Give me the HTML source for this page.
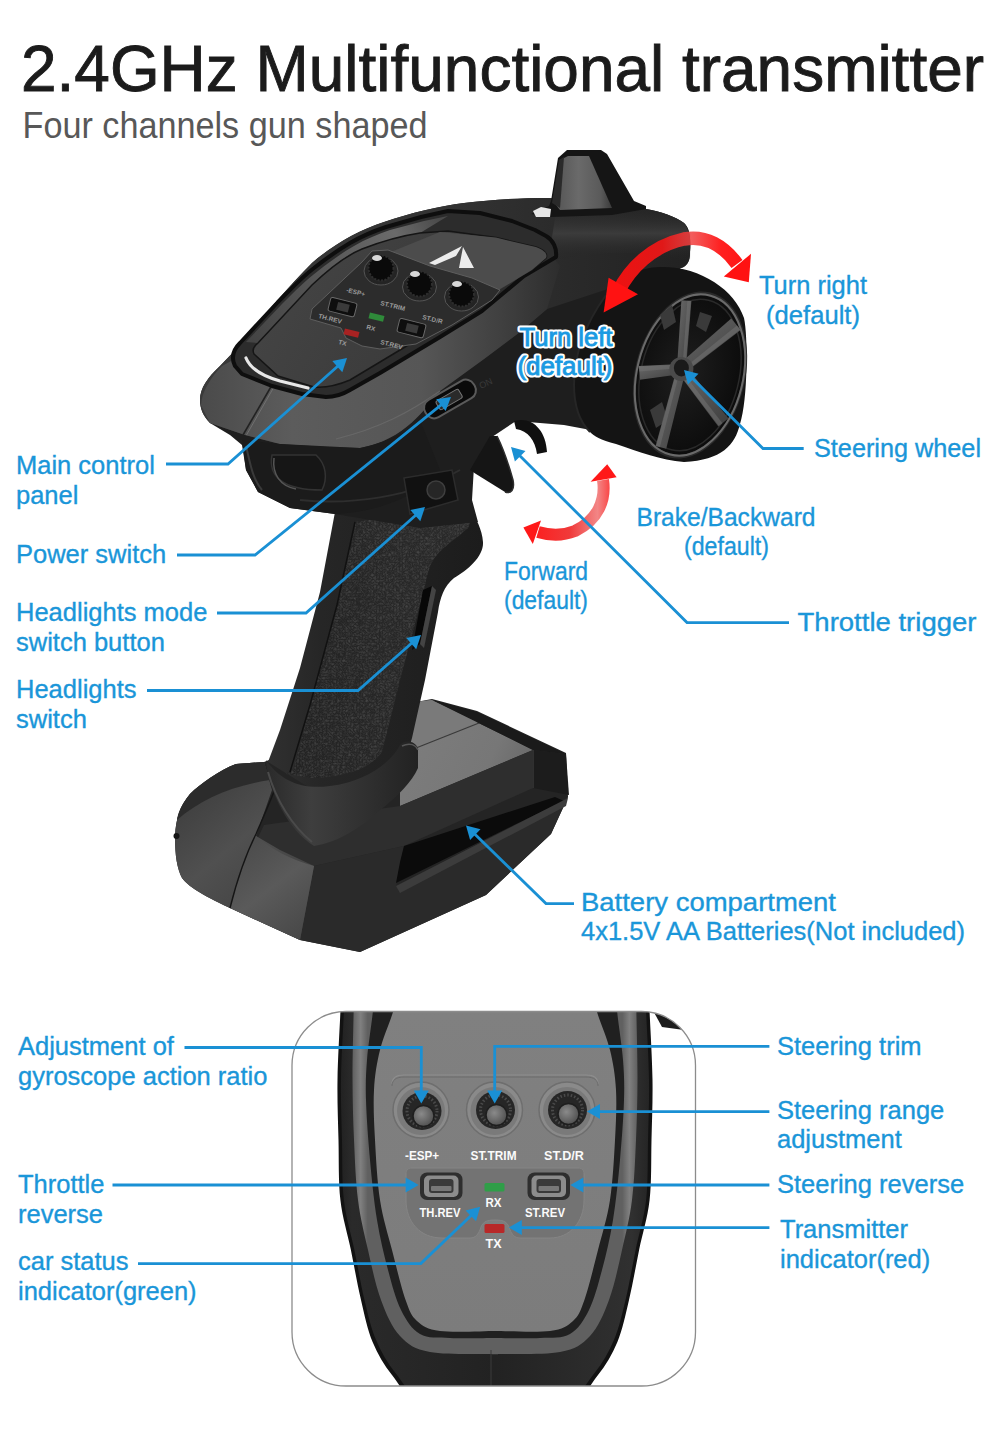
<!DOCTYPE html>
<html><head><meta charset="utf-8"><title>2.4GHz Multifunctional transmitter</title>
<style>
html,body{margin:0;padding:0;background:#fff;}
body{width:1000px;height:1435px;overflow:hidden;position:relative;font-family:"Liberation Sans",sans-serif;}
svg{position:absolute;left:0;top:0;}
.t{font-family:"Liberation Sans",sans-serif;}
.lb{font-family:"Liberation Sans",sans-serif;font-size:25.5px;fill:#1a96d9;stroke:#1a96d9;stroke-width:0.35px;}
.ln{fill:none;stroke:#1a90d4;stroke-width:2.8;stroke-linejoin:miter;}
.ah{fill:#1a90d4;}
</style></head><body>
<svg width="1000" height="1435" viewBox="0 0 1000 1435">
<defs>
<linearGradient id="gShell" x1="200" y1="0" x2="690" y2="0" gradientUnits="userSpaceOnUse">
<stop offset="0" stop-color="#3a3a3a"/><stop offset="0.5" stop-color="#333"/><stop offset="0.75" stop-color="#2a2a2a"/><stop offset="1" stop-color="#222"/>
</linearGradient>
<linearGradient id="gFace" x1="200" y1="0" x2="570" y2="0" gradientUnits="userSpaceOnUse">
<stop offset="0" stop-color="#4a4a4a"/><stop offset="0.25" stop-color="#5c5c5c"/><stop offset="0.6" stop-color="#565656"/><stop offset="0.85" stop-color="#3c3c3c"/><stop offset="1" stop-color="#2a2a2a"/>
</linearGradient>
<linearGradient id="gGrip" x1="0" y1="0" x2="1" y2="0">
<stop offset="0" stop-color="#303030"/><stop offset="0.25" stop-color="#262626"/><stop offset="1" stop-color="#1c1c1c"/>
</linearGradient>
<linearGradient id="gTex" x1="0" y1="0" x2="1" y2="0">
<stop offset="0" stop-color="#222"/><stop offset="1" stop-color="#2a2a2a"/>
</linearGradient>
<linearGradient id="gBaseTop" x1="400" y1="700" x2="560" y2="780" gradientUnits="userSpaceOnUse">
<stop offset="0" stop-color="#7e7e7e"/><stop offset="0.6" stop-color="#777"/><stop offset="1" stop-color="#5e5e5e"/>
</linearGradient>
<linearGradient id="gBaseFront" x1="175" y1="0" x2="420" y2="0" gradientUnits="userSpaceOnUse">
<stop offset="0" stop-color="#262626"/><stop offset="0.25" stop-color="#3c3c3c"/><stop offset="0.6" stop-color="#343434"/><stop offset="1" stop-color="#2a2a2a"/>
</linearGradient>
<linearGradient id="gPanel" x1="250" y1="220" x2="540" y2="390" gradientUnits="userSpaceOnUse">
<stop offset="0" stop-color="#474747"/><stop offset="0.45" stop-color="#3e3e3e"/><stop offset="1" stop-color="#363636"/>
</linearGradient>
<radialGradient id="gRim" cx="0.45" cy="0.5" r="0.6">
<stop offset="0" stop-color="#1e1e1e"/><stop offset="1" stop-color="#0a0a0a"/>
</radialGradient>
<linearGradient id="gSpoke" x1="0" y1="0" x2="1" y2="1">
<stop offset="0" stop-color="#6a6a6a"/><stop offset="1" stop-color="#3e3e3e"/>
</linearGradient>
<linearGradient id="gFin" x1="0" y1="0" x2="1" y2="0">
<stop offset="0" stop-color="#555"/><stop offset="0.4" stop-color="#6a6a6a"/><stop offset="0.8" stop-color="#5a5a5a"/><stop offset="1" stop-color="#3a3a3a"/>
</linearGradient>
<linearGradient id="gRedTop" x1="604" y1="0" x2="750" y2="0" gradientUnits="userSpaceOnUse">
<stop offset="0" stop-color="#f01010"/><stop offset="0.4" stop-color="#e01818"/><stop offset="0.6" stop-color="#f04040" stop-opacity="0.85"/><stop offset="0.8" stop-color="#ff2020"/><stop offset="1" stop-color="#ff1212"/>
</linearGradient>
<linearGradient id="gRedLow" x1="524" y1="0" x2="616" y2="0" gradientUnits="userSpaceOnUse">
<stop offset="0" stop-color="#ff1818"/><stop offset="0.5" stop-color="#f03a3a"/><stop offset="0.8" stop-color="#f07070" stop-opacity="0.85"/><stop offset="1" stop-color="#ff2020"/>
</linearGradient>
<linearGradient id="gHi" x1="0" y1="210" x2="0" y2="262" gradientUnits="userSpaceOnUse">
<stop offset="0" stop-color="#2a2a2a" stop-opacity="0.2"/><stop offset="0.45" stop-color="#404040" stop-opacity="0.8"/><stop offset="1" stop-color="#222" stop-opacity="0"/>
</linearGradient>
<filter id="fLeather" x="0" y="0" width="100%" height="100%">
<feTurbulence type="turbulence" baseFrequency="0.35" numOctaves="3" seed="7" result="n"/>
<feColorMatrix in="n" type="matrix" values="0 0 0 0 0.2  0 0 0 0 0.2  0 0 0 0 0.2  1.5 0 0 0 -0.15" result="c"/>
<feComposite in="c" in2="SourceGraphic" operator="in"/>
</filter>
<linearGradient id="gBaseL" x1="175" y1="780" x2="300" y2="930" gradientUnits="userSpaceOnUse">
<stop offset="0" stop-color="#3a3a3a"/><stop offset="0.45" stop-color="#505050"/><stop offset="1" stop-color="#3c3c3c"/>
</linearGradient>
<linearGradient id="gBaseM" x1="240" y1="840" x2="310" y2="930" gradientUnits="userSpaceOnUse">
<stop offset="0" stop-color="#4a4a4a"/><stop offset="0.5" stop-color="#5a5a5a"/><stop offset="1" stop-color="#484848"/>
</linearGradient>
<linearGradient id="gCollar" x1="266" y1="790" x2="418" y2="790" gradientUnits="userSpaceOnUse">
<stop offset="0" stop-color="#2a2a2a"/><stop offset="0.3" stop-color="#3e3e3e"/><stop offset="0.7" stop-color="#2e2e2e"/><stop offset="1" stop-color="#222"/>
</linearGradient>
</defs>
<!-- ===== base ===== -->
<path d="M264,762 L416,702 L432,699 L477,711 L566,753 L568,797 L551,834 L486,895 L360,952 L300,940 L230,908 C200,894 188,886 182,878 C177,868 175,856 175,836 C176,818 180,806 190,794 C200,784 220,770 236,764 Z" fill="#242424"/>
<!-- top back surfaces -->
<path d="M416,702 L432,700 L533,750 L400,806 L400,745 Z" fill="url(#gBaseTop)"/>
<path d="M416,702 L432,700 L478,722 L416,746 L404,720 Z" fill="#7a7a7a"/>
<path d="M479,723 L416,748" stroke="#3a3a3a" stroke-width="1.3"/>
<!-- right end face -->
<path d="M432,700 L477,712 L566,754 L533,750 Z" fill="#1a1a1a"/>
<path d="M533,750 L566,754 L569,795 L533,788 Z" fill="#1c1c1c"/>
<path d="M533,750 L533,788" stroke="#444" stroke-width="1"/>
<!-- upper front face -->
<path d="M533,750 L533,788 L404,846 L314,866 L252,850 L264,825 L400,806 Z" fill="#2e2e2e"/>
<!-- lower front face -->
<path d="M396,887 L568,797 L551,834 L486,895 L360,952 L300,940 L314,866 L404,846 Z" fill="#2a2a2a"/>
<!-- slot -->
<path d="M404,846 L555,797 L564,801 L514,825 L396,883 L400,862 Z" fill="#0b0b0b"/>
<path d="M396,886 L568,798 L566,806 L400,893 Z" fill="#3c3c3c"/>
<!-- left face -->
<path d="M264,762 L236,764 C220,770 200,784 190,794 C180,806 176,818 175,836 C175,856 177,868 182,878 C188,886 200,894 230,908 L300,940 L314,866 L280,850 L256,836 L272,790 Z" fill="url(#gBaseL)"/>
<path d="M280,776 C270,800 262,820 256,834 C248,850 238,876 230,908 L300,940 L314,866 C295,860 270,848 256,836" fill="none" stroke="none"/>
<path d="M256,836 C248,852 238,878 230,908 L300,940 L314,866 C292,860 272,850 256,836 Z" fill="url(#gBaseM)"/>
<path d="M280,776 C272,798 262,820 256,834 C248,850 238,876 230,908" fill="none" stroke="#151515" stroke-width="1.4"/>
<path d="M236,764 C220,770 200,784 190,794 C182,804 178,812 177,820 C200,800 230,786 270,780 L264,762 Z" fill="#2c2c2c"/>
<circle cx="176.5" cy="836" r="3" fill="#151515"/>
<!-- ===== grip ===== -->
<path d="M335,512 L465,500 C472,512 482,526 483,542 C484,556 468,570 454,578 C444,586 440,598 438,612 L425,680 L412,738 L408,752 C395,770 350,790 310,788 L268,762 L280,730 L300,668 L320,592 Z" fill="url(#gGrip)"/>
<path d="M355,522 L467,505 C470,512 472,520 468,528 C455,540 440,548 432,562 C428,570 426,580 424,590 L400,680 L382,752 C370,770 340,778 312,778 L286,774 L294,768 L310,705 L337,605 Z" fill="url(#gTex)"/>
<path d="M355,522 L467,505 C470,512 472,520 468,528 C455,540 440,548 432,562 C428,570 426,580 424,590 L400,680 L382,752 C370,770 340,778 312,778 L286,774 L294,768 L310,705 L337,605 Z" fill="#000" filter="url(#fLeather)" opacity="0.35"/>
<path d="M355,522 L337,605 L310,705 L290,772" fill="none" stroke="#111" stroke-width="1.5"/>
<!-- collar -->
<path d="M266,760 C268,790 288,830 314,846 C340,842 362,826 378,812 C398,796 412,782 418,768 L418,748 C414,740 404,740 400,745 C392,762 365,782 330,786 C300,790 280,780 266,760 Z" fill="url(#gCollar)"/>
<path d="M268,772 C276,800 292,826 312,842" fill="none" stroke="#4a4a4a" stroke-width="2"/>
<path d="M402,746 C410,742 416,745 418,750" fill="none" stroke="#555" stroke-width="1.5"/>
<!-- headlights switch slot -->
<path d="M423,590 L432,586 L420,644 L412,650 Z" fill="#080808"/>
<path d="M432,586 L436,590 L424,648 L420,644 Z" fill="#444"/>
<!-- ===== upper body ===== -->
<path d="M200,400 C200,388 208,377 220,366 L245,340 C262,318 285,290 312,263 C335,243 360,230 384,222 C410,213 440,206 464,203 C490,200 515,198 549,198 L646,209 C660,211 676,217 684,223 C690,228 691,240 690,252 C690,260 688,266 681,268 L640,300 L596,431 L564,425 L516,421 L492,437 L474,466 L472,500 L478,522 L420,528 L335,514 L290,508 L258,492 L246,470 L242,445 L230,435 L210,423 C203,416 200,408 200,400 Z" fill="#1e1e1e"/>
<!-- shell top surface -->
<path d="M200,400 C200,388 208,377 220,366 L245,340 C262,318 285,290 312,263 C335,243 360,230 384,222 C410,213 440,206 464,203 C490,200 515,198 549,198 L646,209 C660,211 676,217 684,223 C690,228 691,240 690,252 C690,260 688,266 681,268 L620,285 L547,309 L520,332 L484,359 L440,391 C425,408 405,440 360,448 L328,447 L280,444 L245,435 L210,423 C203,416 200,408 200,400 Z" fill="url(#gShell)"/>
<!-- top surface highlight band right of panel -->
<path d="M556,212 L646,209 C660,211 676,217 684,223 C690,230 691,245 690,262 C650,250 600,250 548,262 Z" fill="url(#gHi)"/>
<!-- shell front face -->
<path d="M201,405 C202,392 210,378 222,366 L233,360 L240,373 L270,384 L302,394 L326,397 L350,390 L380,373 L400,361 L440,337 L482,311 L524,276 L552,256 L560,266 L547,309 L520,332 L484,359 L440,391 C425,408 405,440 360,448 L328,447 L280,444 L245,435 L210,423 Z" fill="url(#gFace)"/>
<path d="M336,439 C380,428 410,412 440,391" fill="none" stroke="#6a6a6a" stroke-width="1.2" opacity="0.8"/>
<path d="M272,385 L243,435" stroke="#222" stroke-width="1.6"/>
<path d="M273,386 L245,435" stroke="#777" stroke-width="0.8" transform="translate(1.5,0)"/>
<!-- underbody / headlight -->
<path d="M242,440 L280,444 L360,448 C395,440 410,430 420,420 L440,470 C420,495 380,512 335,514 L290,508 L258,492 L246,470 Z" fill="#1b1b1b"/>
<path d="M300,500 C350,505 410,498 460,470" fill="none" stroke="#2e2e2e" stroke-width="2"/>
<path d="M246,446 C250,462 252,478 262,490" fill="none" stroke="#3a3a3a" stroke-width="2"/>
<path d="M272,455 C268,476 282,490 322,490 C328,478 326,464 316,455 Z" fill="#161616" stroke="#333" stroke-width="1.5"/>
<path d="M274,458 C272,474 280,486 296,489" fill="none" stroke="#555" stroke-width="1.5"/>
<!-- fin -->
<path d="M531,214 L549,206 L551,201 L558,158 L567,150 L601,150 L607,154 L634,201 L646,206 L646,209 L612,215 L551,217 Z" fill="#151515"/>
<path d="M560,160 L568,156 L589,156 L612,208 L560,210 L556,205 Z" fill="url(#gFin)"/>
<path d="M552,203 L559,160 L564,157 L560,208 Z" fill="#2a2a2a"/>
<path d="M533,211 L541,207 L551,209 L550,217 L536,217 Z" fill="#e6e6e6"/>
<!-- ===== control panel ===== -->
<defs><linearGradient id="gGlass" x1="250" y1="340" x2="440" y2="220" gradientUnits="userSpaceOnUse">
<stop offset="0" stop-color="#444"/><stop offset="0.5" stop-color="#5a5a5a"/><stop offset="0.8" stop-color="#6a6a6a"/><stop offset="1" stop-color="#4a4a4a"/>
</linearGradient></defs>
<path d="M235,366 C231,358 233,350 240,343 L278,302 C292,288 302,277 314,268 C328,257 338,250 350,243 C362,236 374,231 386,227 L421,217 L448,211 L480,213 L512,221 L535,230 L546,236 C553,240 557,248 556,257 L524,276 L482,311 L440,337 L400,361 L380,373 L350,390 C340,396 332,397 326,397 L302,394 L272,386 L242,374 Z" fill="#2c2c2c" stroke="#0e0e0e" stroke-width="4" stroke-linejoin="round"/>
<path d="M246,342 L282,304 C296,290 306,280 318,271 C332,260 342,253 354,246 C366,239 378,234 390,230 L424,221 L448,216 L420,233 C400,236 380,242 362,249 C345,256 330,268 312,285 L258,343 Z" fill="url(#gGlass)"/>
<path d="M254,354 C252,350 254,346 258,343 L312,285 C330,268 345,256 362,249 C380,242 400,236 420,233 L448,231 L496,237.6 L536,247 C544,250 548,254 546,258 L532,270 L510,281 L474,306 L440,326 L400,350 L380,362 L350,380 C336,386 326,388 314,387 L278,376 Z" fill="url(#gPanel)" stroke="#151515" stroke-width="1.5"/>
<path d="M386,254 L440,232 L496,237.6 L536,247 C544,250 548,254 546,258 L532,270 L492,294 Z" fill="#4c4c4c"/>
<!-- sub panel -->
<path d="M312,309 L362,262 L372,251 L388,250 L430,266 L472,278 L500,290 L492,300 L452,325 L416,344 L380,349 L362,346 L346,338 L341,328 L310,319 Z" fill="#2c2c2c" stroke="#5e5e5e" stroke-width="1"/>
<!-- knobs -->
<g stroke="#555" stroke-width="1" fill="#242424">
<ellipse cx="381" cy="271" rx="17" ry="14"/>
<ellipse cx="419.5" cy="287" rx="17" ry="14"/>
<ellipse cx="461.5" cy="297" rx="17" ry="14"/>
</g>
<g fill="#0a0a0a" stroke="#2e2e2e" stroke-width="2" stroke-dasharray="2 1.5">
<circle cx="381" cy="268" r="12.5"/>
<circle cx="419.5" cy="284" r="12.5"/>
<circle cx="461.5" cy="294" r="12.5"/>
</g>
<g fill="#d8d8d8">
<ellipse cx="377" cy="258" rx="5" ry="3"/>
<ellipse cx="415" cy="274" rx="5" ry="3"/>
<ellipse cx="457" cy="284" rx="5" ry="3"/>
</g>
<!-- panel text -->
<g font-family="Liberation Sans" font-weight="bold" font-size="6.5" fill="#9a9a9a">
<text x="346" y="292" transform="rotate(14 346 292)">-ESP+</text>
<text x="380" y="305" transform="rotate(14 380 305)">ST.TRIM</text>
<text x="422" y="319" transform="rotate(14 422 319)">ST.D/R</text>
<text x="318" y="318" transform="rotate(14 318 318)">TH.REV</text>
<text x="366" y="329" transform="rotate(14 366 329)">RX</text>
<text x="380" y="344" transform="rotate(14 380 344)">ST.REV</text>
<text x="338" y="344" transform="rotate(14 338 344)">TX</text>
</g>
<!-- switches / leds -->
<g transform="rotate(14 342 307)"><rect x="329" y="300" width="27" height="14" rx="2" fill="#0e0e0e" stroke="#6a6a6a" stroke-width="1"/><rect x="337" y="303" width="12" height="8" fill="#3a3a3a"/></g>
<g transform="rotate(14 411 328)"><rect x="398" y="321" width="27" height="14" rx="2" fill="#0e0e0e" stroke="#6a6a6a" stroke-width="1"/><rect x="406" y="324" width="12" height="8" fill="#3a3a3a"/></g>
<rect x="369" y="314" width="15" height="6" fill="#2f8a3a" transform="rotate(14 376 317)"/>
<rect x="344" y="330" width="15" height="6" fill="#a82222" transform="rotate(14 351 333)"/>
<!-- logo -->
<path d="M429,263 L462,246 L456,256 L435,265 Z M463,247 L474,268 L459,268 Z" fill="#ececec"/>
<!-- bezel highlight -->
<path d="M246,358 C250,368 262,376 280,381 L308,388" fill="none" stroke="#e8e8e8" stroke-width="3.2" stroke-linecap="round"/>
<!-- power switch -->
<g transform="rotate(-30 450 399)"><rect x="422" y="389" width="56" height="20" rx="9" fill="#0a0a0a" stroke="#5a5a5a" stroke-width="2"/><rect x="436" y="394" width="26" height="10" rx="2" fill="#2a2a2a" stroke="#777" stroke-width="1"/></g>
<text x="481" y="389" font-family="Liberation Sans" font-size="9" fill="#3a3a3a" transform="rotate(-25 481 389)">ON</text>
<!-- headlights mode button -->
<path d="M404,478 L452,470 L458,500 L410,514 Z" fill="#111" stroke="#2c2c2c" stroke-width="1.5"/>
<circle cx="436" cy="490" r="9" fill="#262626" stroke="#3e3e3e" stroke-width="1.5"/>
<!-- ===== trigger ===== -->
<path d="M514,421 C532,416 546,430 547,452 L537,454 C535,440 528,431 516,429 Z" fill="#101010"/>
<path d="M470,470 L490,436 L497,436 C503,448 508,462 513,480 C515,490 511,494 505,492 L476,474 Z" fill="#151515"/>
<path d="M497,436 C503,448 508,462 513,480 C515,490 511,494 505,492" fill="none" stroke="#2e2e2e" stroke-width="1.5"/>
<!-- ===== wheel ===== -->
<path d="M624,275 C640,270 650,267 660,267 C700,266 735,290 744,318 C748,335 748,400 740,424 C735,445 722,460 684,462 C660,460 640,452 616,444 C600,440 594,436 590,432 C578,420 574,405 574,385 C574,350 588,320 606,295 C612,285 618,278 624,275 Z" fill="#141414"/>
<path d="M606,295 C588,320 574,350 574,385 C574,405 578,420 590,432" fill="none" stroke="#262626" stroke-width="2"/>

<ellipse cx="690" cy="375" rx="55" ry="85" fill="#2a2a2a" transform="rotate(14 690 375)"/>
<ellipse cx="690" cy="375" rx="52" ry="81" fill="url(#gRim)" transform="rotate(14 690 375)"/>
<ellipse cx="690" cy="375" rx="53" ry="82" fill="none" stroke="#6a6a6a" stroke-width="2" transform="rotate(14 690 375)"/>
<ellipse cx="690" cy="375" rx="49" ry="77" fill="none" stroke="#2a2a2a" stroke-width="1.5" transform="rotate(14 690 375)"/>
<g fill="#3a3a3a">
<path d="M660,315 L672,305 L676,322 L664,330 Z"/>
<path d="M700,312 L712,316 L706,332 L696,326 Z"/>
<path d="M650,410 L662,402 L668,420 L656,428 Z"/>
</g>
<g fill="url(#gSpoke)">
<polygon points="685.9,369.3 691.4,300.9 681.4,300.2 676.9,368.7"/>
<polygon fill="#777" opacity="0.45" points="685.4,369.3 690.9,300.9 687.4,300.7 682.3,369.1"/>
<polygon points="684.6,372.9 740.7,330.1 731.2,318.5 678.2,365.1"/>
<polygon fill="#777" opacity="0.45" points="684.3,372.5 740.2,329.5 736.9,325.5 682.0,369.8"/>
<polygon points="677.5,372.1 718.3,426.4 728.5,418.3 685.3,365.9"/>
<polygon fill="#777" opacity="0.45" points="677.9,371.8 718.8,426.0 722.4,423.2 680.6,369.6"/>
<polygon points="677.0,367.9 655.6,445.9 666.2,448.7 685.8,370.1"/>
<polygon fill="#777" opacity="0.45" points="677.5,368.0 656.1,446.0 659.9,447.0 680.5,368.8"/>
<polygon points="680.9,364.0 638.8,365.9 640.1,379.8 681.9,374.0"/>
<polygon fill="#777" opacity="0.45" points="681.0,364.5 638.9,366.6 639.3,371.5 681.3,368.0"/>
</g>
<circle cx="681.4" cy="369" r="12" fill="#4a4a4a"/>
<ellipse cx="681.4" cy="368" rx="7.5" ry="8.5" fill="#1a1a1a"/>
<!-- ===== red arrows ===== -->
<path d="M618,292 C630,268 652,246 684,239 C706,235 724,246 737,264" fill="none" stroke="url(#gRedTop)" stroke-width="13.5"/>
<polygon points="603.6,312.4 608.6,277.8 638,294.2" fill="#ff1212"/>
<polygon points="748.8,282.2 723.8,276.4 751,253.8" fill="#ff1212"/>
<path d="M603,480 C606,500 598,520 575,531 C560,537 548,535 538,532" fill="none" stroke="url(#gRedLow)" stroke-width="12"/>
<polygon points="607.2,464.2 590.6,481.8 616.6,477.2" fill="#ff1818"/>
<polygon points="523.4,527.6 532.8,544 541,520.6" fill="#ff1818"/>
<!-- ===== bottom zoom panel ===== -->
<defs>
<clipPath id="cFrame"><rect x="292" y="1011.5" width="403.5" height="374.5" rx="54" ry="54"/></clipPath>
<linearGradient id="gInner" x1="0" y1="1011" x2="0" y2="1335" gradientUnits="userSpaceOnUse">
<stop offset="0" stop-color="#808080"/><stop offset="1" stop-color="#7c7c7c"/>
</linearGradient>
<linearGradient id="gShellB" x1="336" y1="0" x2="654" y2="0" gradientUnits="userSpaceOnUse">
<stop offset="0" stop-color="#1e1e1e"/><stop offset="0.05" stop-color="#2a2a2a"/><stop offset="0.5" stop-color="#222"/><stop offset="0.93" stop-color="#303030"/><stop offset="1" stop-color="#222"/>
</linearGradient>
<linearGradient id="gRimB" x1="352" y1="0" x2="638" y2="0" gradientUnits="userSpaceOnUse">
<stop offset="0" stop-color="#5e5e5e"/><stop offset="0.03" stop-color="#808080"/><stop offset="0.055" stop-color="#606060"/><stop offset="0.945" stop-color="#606060"/><stop offset="0.97" stop-color="#808080"/><stop offset="1" stop-color="#5e5e5e"/>
</linearGradient>
<radialGradient id="gKnob" cx="0.4" cy="0.4" r="0.7">
<stop offset="0" stop-color="#8a8a8a"/><stop offset="1" stop-color="#4a4a4a"/>
</radialGradient>
</defs>
<g clip-path="url(#cFrame)">
<!-- black shell -->
<path d="M341.0,995.0 C340.9,997.8 341.0,997.8 340.4,1012.0 C339.8,1026.2 337.8,1058.7 337.5,1080.0 C337.2,1101.3 338.0,1120.0 338.5,1140.0 C339.0,1160.0 338.3,1181.7 340.4,1200.0 C342.5,1218.3 347.5,1233.3 350.9,1250.0 C354.3,1266.7 357.4,1284.7 361.0,1300.0 C364.6,1315.3 367.4,1329.5 372.6,1342.0 C377.8,1354.5 384.1,1365.3 392.0,1375.0 C399.9,1384.7 402.8,1395.5 420.0,1400.0 C437.2,1404.5 482.5,1401.7 495.0,1402.0 C507.5,1402.3 482.5,1402.3 495.0,1402.0 C507.5,1401.7 552.8,1404.5 570.0,1400.0 C587.2,1395.5 590.1,1384.7 598.0,1375.0 C605.9,1365.3 612.2,1354.5 617.4,1342.0 C622.6,1329.5 625.4,1315.3 629.0,1300.0 C632.6,1284.7 635.7,1266.7 639.1,1250.0 C642.5,1233.3 647.5,1218.3 649.6,1200.0 C651.7,1181.7 651.0,1160.0 651.5,1140.0 C652.0,1120.0 652.8,1101.3 652.5,1080.0 C652.2,1058.7 650.2,1026.2 649.6,1012.0 C649.0,997.8 649.1,997.8 649.0,995.0 Z" fill="#121212"/>
<path d="M344.5,995.0 C344.4,997.8 344.5,997.8 343.9,1012.0 C343.3,1026.2 341.3,1058.7 341.0,1080.0 C340.7,1101.3 341.5,1120.0 342.0,1140.0 C342.5,1160.0 341.8,1181.7 343.9,1200.0 C346.0,1218.3 351.0,1233.3 354.4,1250.0 C357.8,1266.7 360.9,1285.0 364.5,1300.0 C368.1,1315.0 370.9,1327.8 376.1,1340.0 C381.3,1352.2 387.6,1363.3 395.5,1373.0 C403.4,1382.7 406.9,1393.5 423.5,1398.0 C440.1,1402.5 483.1,1399.7 495.0,1400.0 C506.9,1400.3 483.1,1400.3 495.0,1400.0 C506.9,1399.7 549.9,1402.5 566.5,1398.0 C583.1,1393.5 586.6,1382.7 594.5,1373.0 C602.4,1363.3 608.7,1352.2 613.9,1340.0 C619.1,1327.8 621.9,1315.0 625.5,1300.0 C629.1,1285.0 632.2,1266.7 635.6,1250.0 C639.0,1233.3 644.0,1218.3 646.1,1200.0 C648.2,1181.7 647.5,1160.0 648.0,1140.0 C648.5,1120.0 649.3,1101.3 649.0,1080.0 C648.7,1058.7 646.7,1026.2 646.1,1012.0 C645.5,997.8 645.6,997.8 645.5,995.0 Z" fill="url(#gShellB)"/>
<path d="M650,1005 L678,1014 L684,1030 L662,1027 Z" fill="#1c1c1c"/>
<!-- gray bevel rim -->
<path d="M354.0,995.0 C353.9,997.8 353.9,997.8 353.6,1012.0 C353.4,1026.2 352.4,1058.7 352.5,1080.0 C352.6,1101.3 353.1,1120.0 354.0,1140.0 C354.9,1160.0 355.7,1181.7 358.0,1200.0 C360.3,1218.3 364.2,1233.3 368.0,1250.0 C371.8,1266.7 375.7,1285.7 381.0,1300.0 C386.3,1314.3 391.8,1327.3 400.0,1336.0 C408.2,1344.7 414.2,1349.0 430.0,1352.0 C445.8,1355.0 484.2,1353.7 495.0,1354.0 C505.8,1354.3 484.2,1354.3 495.0,1354.0 C505.8,1353.7 544.2,1355.0 560.0,1352.0 C575.8,1349.0 581.8,1344.7 590.0,1336.0 C598.2,1327.3 603.7,1314.3 609.0,1300.0 C614.3,1285.7 618.2,1266.7 622.0,1250.0 C625.8,1233.3 629.7,1218.3 632.0,1200.0 C634.3,1181.7 635.1,1160.0 636.0,1140.0 C636.9,1120.0 637.4,1101.3 637.5,1080.0 C637.6,1058.7 636.6,1026.2 636.4,1012.0 C636.1,997.8 636.1,997.8 636.0,995.0 Z" fill="url(#gRimB)"/>
<!-- dark line -->
<path d="M373.0,995.0 C373.0,997.8 373.8,1001.2 372.8,1012.0 C371.8,1022.8 368.1,1045.3 367.0,1060.0 C365.9,1074.7 365.5,1083.3 366.0,1100.0 C366.5,1116.7 368.2,1140.0 370.0,1160.0 C371.8,1180.0 374.0,1201.7 377.0,1220.0 C380.0,1238.3 384.0,1255.0 388.0,1270.0 C392.0,1285.0 395.7,1299.3 401.0,1310.0 C406.3,1320.7 411.8,1329.3 420.0,1334.0 C428.2,1338.7 437.5,1337.3 450.0,1338.0 C462.5,1338.7 487.5,1338.0 495.0,1338.0 C502.5,1338.0 487.5,1338.0 495.0,1338.0 C502.5,1338.0 527.5,1338.7 540.0,1338.0 C552.5,1337.3 561.8,1338.7 570.0,1334.0 C578.2,1329.3 583.7,1320.7 589.0,1310.0 C594.3,1299.3 598.0,1285.0 602.0,1270.0 C606.0,1255.0 610.0,1238.3 613.0,1220.0 C616.0,1201.7 618.2,1180.0 620.0,1160.0 C621.8,1140.0 623.5,1116.7 624.0,1100.0 C624.5,1083.3 624.1,1074.7 623.0,1060.0 C621.9,1045.3 618.2,1022.8 617.2,1012.0 C616.2,1001.2 617.0,997.8 617.0,995.0 Z" fill="#202020"/>
<!-- inner panel -->
<path d="M396.0,995.0 C395.5,997.8 395.7,1002.8 393.0,1012.0 C390.3,1021.2 383.2,1037.0 380.0,1050.0 C376.8,1063.0 374.8,1075.0 374.0,1090.0 C373.2,1105.0 374.0,1121.7 375.0,1140.0 C376.0,1158.3 377.2,1181.7 380.0,1200.0 C382.8,1218.3 387.7,1233.3 392.0,1250.0 C396.3,1266.7 401.4,1288.2 405.6,1300.0 C409.8,1311.8 411.3,1315.8 417.0,1321.0 C422.7,1326.2 427.0,1329.3 440.0,1331.0 C453.0,1332.7 485.8,1331.0 495.0,1331.0 C504.2,1331.0 485.8,1331.0 495.0,1331.0 C504.2,1331.0 537.0,1332.7 550.0,1331.0 C563.0,1329.3 567.3,1326.2 573.0,1321.0 C578.7,1315.8 580.2,1311.8 584.4,1300.0 C588.6,1288.2 593.7,1266.7 598.0,1250.0 C602.3,1233.3 607.2,1218.3 610.0,1200.0 C612.8,1181.7 614.0,1158.3 615.0,1140.0 C616.0,1121.7 616.8,1105.0 616.0,1090.0 C615.2,1075.0 613.2,1063.0 610.0,1050.0 C606.8,1037.0 599.7,1021.2 597.0,1012.0 C594.3,1002.8 594.5,997.8 594.0,995.0 Z" fill="url(#gInner)"/>
<path d="M392,1084 C392,1078 396,1075 404,1075 L586,1075 C594,1075 598,1078 598,1084" fill="none" stroke="#8e8e8e" stroke-width="1.2"/>
<path d="M392,1086 C392,1080 396,1077 404,1077 L586,1077 C594,1077 598,1080 598,1086" fill="none" stroke="#6c6c6c" stroke-width="1"/>
<!-- knob recesses -->
<g fill="#8a8a8a" stroke="#6e6e6e" stroke-width="1.5">
<circle cx="421" cy="1110" r="28"/>
<circle cx="494.5" cy="1110" r="28"/>
<circle cx="567" cy="1110" r="28"/>
</g>
<g fill="#7a7a7a">
<circle cx="421" cy="1111" r="24"/>
<circle cx="494.5" cy="1111" r="24"/>
<circle cx="567" cy="1111" r="24"/>
</g>
<!-- knobs -->
<g fill="#262626">
<ellipse cx="422" cy="1111" rx="19.5" ry="19"/>
<ellipse cx="495.5" cy="1110" rx="19.5" ry="19"/>
<ellipse cx="567.5" cy="1110" rx="19.5" ry="19"/>
</g>
<g fill="none" stroke="#4a4a4a" stroke-width="3" stroke-dasharray="1.5 2">
<circle cx="422" cy="1111" r="15"/>
<circle cx="495.5" cy="1110" r="15"/>
<circle cx="567.5" cy="1110" r="15"/>
</g>
<g fill="url(#gKnob)" stroke="#1e1e1e" stroke-width="1.5">
<circle cx="423.5" cy="1116" r="10.5"/>
<circle cx="496.5" cy="1115" r="10.5"/>
<circle cx="568.5" cy="1114" r="10.5"/>
</g>
<!-- switch recess -->
<path d="M412,1168 L578,1168 C582,1168 584,1170 584,1174 L584,1200 C584,1222 570,1238 550,1238 L520,1238 C514,1238 512,1234 510,1230 C508,1222 504,1220 495,1220 C486,1220 482,1222 480,1230 C478,1234 476,1238 470,1238 L442,1238 C420,1238 406,1222 406,1200 L406,1174 C406,1170 408,1168 412,1168 Z" fill="#737373" stroke="#858585" stroke-width="1"/>
<!-- switches -->
<g>
<rect x="420" y="1172.5" width="42.5" height="27.5" rx="7" fill="#2e2e2e"/>
<rect x="424" y="1175.5" width="34.5" height="21.5" rx="5" fill="#8c8c8c"/>
<rect x="429" y="1179" width="24.5" height="14" rx="3" fill="#3a3a3a"/>
<rect x="431" y="1186" width="20.5" height="5" rx="1" fill="#777"/>
<rect x="527.5" y="1172.5" width="42.5" height="27.5" rx="7" fill="#2e2e2e"/>
<rect x="531.5" y="1175.5" width="34.5" height="21.5" rx="5" fill="#8c8c8c"/>
<rect x="536.5" y="1179" width="24.5" height="14" rx="3" fill="#3a3a3a"/>
<rect x="538.5" y="1186" width="20.5" height="5" rx="1" fill="#777"/>
</g>
<!-- leds -->
<rect x="484.5" y="1183" width="20" height="8.5" rx="1.5" fill="#2f9e48"/>
<rect x="484.5" y="1224" width="20" height="9" rx="1.5" fill="#b82828"/>
<!-- labels -->
<g font-family="Liberation Sans" font-weight="bold" font-size="12.5" fill="#fbfbfb">
<text x="405" y="1160" textLength="34" lengthAdjust="spacingAndGlyphs">-ESP+</text>
<text x="470.5" y="1160" textLength="46" lengthAdjust="spacingAndGlyphs">ST.TRIM</text>
<text x="544" y="1160" textLength="40" lengthAdjust="spacingAndGlyphs">ST.D/R</text>
<text x="419.5" y="1217" textLength="41" lengthAdjust="spacingAndGlyphs">TH.REV</text>
<text x="485.5" y="1207" textLength="16" lengthAdjust="spacingAndGlyphs">RX</text>
<text x="525" y="1217" textLength="40" lengthAdjust="spacingAndGlyphs">ST.REV</text>
<text x="485.5" y="1248" textLength="16" lengthAdjust="spacingAndGlyphs">TX</text>
</g>
<!-- bottom seam -->
<line x1="491" y1="1350" x2="491" y2="1390" stroke="#3a3a3a" stroke-width="1"/>
</g>
<rect x="292" y="1011.5" width="403.5" height="374.5" rx="54" ry="54" fill="none" stroke="#8c8c8c" stroke-width="1.3"/>
<!-- titles -->
<text class="t" x="21" y="91" font-size="65" fill="#1b1b1b" textLength="963" stroke="#1b1b1b" stroke-width="0.9" lengthAdjust="spacingAndGlyphs">2.4GHz Multifunctional transmitter</text>
<text class="t" x="22.5" y="138" font-size="36" fill="#585858" textLength="405" lengthAdjust="spacingAndGlyphs">Four channels gun shaped</text>
<!-- left labels -->
<text class="lb" x="16" y="474">Main control</text>
<text class="lb" x="16" y="504">panel</text>
<text class="lb" x="16" y="562.5">Power switch</text>
<text class="lb" x="16" y="620.5">Headlights mode</text>
<text class="lb" x="16" y="651">switch button</text>
<text class="lb" x="16" y="697.5">Headlights</text>
<text class="lb" x="16" y="727.5">switch</text>
<!-- right labels -->
<text class="lb" x="759" y="294.3" textLength="108" lengthAdjust="spacingAndGlyphs">Turn right</text>
<text class="lb" x="766" y="323.7" textLength="94" lengthAdjust="spacingAndGlyphs">(default)</text>
<text class="lb" x="814" y="456.8" textLength="167" lengthAdjust="spacingAndGlyphs">Steering wheel</text>
<text class="lb" x="636.5" y="526.4" font-size="24" textLength="179" lengthAdjust="spacingAndGlyphs">Brake/Backward</text>
<text class="lb" x="684" y="554.6" font-size="24" textLength="85" lengthAdjust="spacingAndGlyphs">(default)</text>
<text class="lb" x="504" y="580" font-size="24" textLength="84" lengthAdjust="spacingAndGlyphs">Forward</text>
<text class="lb" x="504" y="609" font-size="24" textLength="84" lengthAdjust="spacingAndGlyphs">(default)</text>
<text class="lb" x="797.5" y="630.7" textLength="179" lengthAdjust="spacingAndGlyphs">Throttle trigger</text>
<text class="lb" x="581" y="911.4" font-size="24" textLength="255" lengthAdjust="spacingAndGlyphs">Battery compartment</text>
<text class="lb" x="581" y="940" font-size="24" textLength="384" lengthAdjust="spacingAndGlyphs">4x1.5V AA Batteries(Not included)</text>
<!-- turn left with white outline -->
<g font-family="Liberation Sans" font-size="25">
<text x="519.5" y="346.4" textLength="93" lengthAdjust="spacingAndGlyphs" fill="#fff" stroke="#fff" stroke-width="5" stroke-linejoin="round">Turn left</text>
<text x="517.5" y="375" textLength="95" lengthAdjust="spacingAndGlyphs" fill="#fff" stroke="#fff" stroke-width="5" stroke-linejoin="round">(default)</text>
<text x="519.5" y="346.4" textLength="93" lengthAdjust="spacingAndGlyphs" fill="#1a9ae2" stroke="#1a9ae2" stroke-width="0.9">Turn left</text>
<text x="517.5" y="375" textLength="95" lengthAdjust="spacingAndGlyphs" fill="#1a9ae2" stroke="#1a9ae2" stroke-width="0.9">(default)</text>
</g>
<!-- bottom labels -->
<text class="lb" x="18" y="1055.4">Adjustment of</text>
<text class="lb" x="18" y="1085.4">gyroscope action ratio</text>
<text class="lb" x="18" y="1193.4">Throttle</text>
<text class="lb" x="18" y="1223.4">reverse</text>
<text class="lb" x="18" y="1269.6">car status</text>
<text class="lb" x="18" y="1299.6">indicator(green)</text>
<text class="lb" x="777" y="1055">Steering trim</text>
<text class="lb" x="777" y="1119">Steering range</text>
<text class="lb" x="777" y="1148.4">adjustment</text>
<text class="lb" x="777" y="1193.4">Steering reverse</text>
<text class="lb" x="780" y="1238.4">Transmitter</text>
<text class="lb" x="780" y="1268.4">indicator(red)</text>
<!-- leader lines -->
<polyline class="ln" points="166.0,464.0 228.0,464.0 338.8,365.3"/>
<polygon class="ah" points="347.0,358.0 342.3,372.2 332.3,361.0"/>
<polyline class="ln" points="177.0,555.0 255.0,555.0 442.4,403.9"/>
<polygon class="ah" points="451.0,397.0 445.6,411.0 436.2,399.3"/>
<polyline class="ln" points="217.0,613.0 306.0,613.0 416.8,514.3"/>
<polygon class="ah" points="425.0,507.0 420.3,521.2 410.3,510.0"/>
<polyline class="ln" points="147.0,690.5 358.0,690.5 412.7,642.3"/>
<polygon class="ah" points="421.0,635.0 416.2,649.2 406.3,638.0"/>
<polyline class="ln" points="803.7,448.5 763.0,448.5 691.8,377.8"/>
<polygon class="ah" points="684.0,370.0 698.5,373.8 687.9,384.5"/>
<polyline class="ln" points="789.0,622.6 687.0,622.6 518.8,454.8"/>
<polygon class="ah" points="511.0,447.0 525.5,450.9 514.9,461.5"/>
<polyline class="ln" points="574.0,903.6 546.0,903.6 473.9,833.3"/>
<polygon class="ah" points="466.0,825.6 480.5,829.3 470.1,840.0"/>
<polyline class="ln" points="184.5,1047.5 421.3,1047.5 421.3,1092.5"/>
<polygon class="ah" points="421.3,1103.5 413.8,1090.5 428.8,1090.5"/>
<polyline class="ln" points="769.4,1046.4 494.7,1046.4 494.7,1092.5"/>
<polygon class="ah" points="494.7,1103.5 487.2,1090.5 502.2,1090.5"/>
<polyline class="ln" points="769.4,1111.6 598.0,1111.6"/>
<polygon class="ah" points="587.0,1111.6 600.0,1104.1 600.0,1119.1"/>
<polyline class="ln" points="112.5,1185.0 407.6,1185.0"/>
<polygon class="ah" points="418.6,1185.0 405.6,1192.5 405.6,1177.5"/>
<polyline class="ln" points="769.4,1185.0 581.4,1185.0"/>
<polygon class="ah" points="570.4,1185.0 583.4,1177.5 583.4,1192.5"/>
<polyline class="ln" points="769.4,1227.6 519.8,1227.6"/>
<polygon class="ah" points="508.8,1227.6 521.8,1220.1 521.8,1235.1"/>
<polyline class="ln" points="138.0,1263.6 420.8,1263.6 472.2,1214.4"/>
<polygon class="ah" points="480.2,1206.8 476.0,1221.2 465.6,1210.4"/>
</svg></body></html>
